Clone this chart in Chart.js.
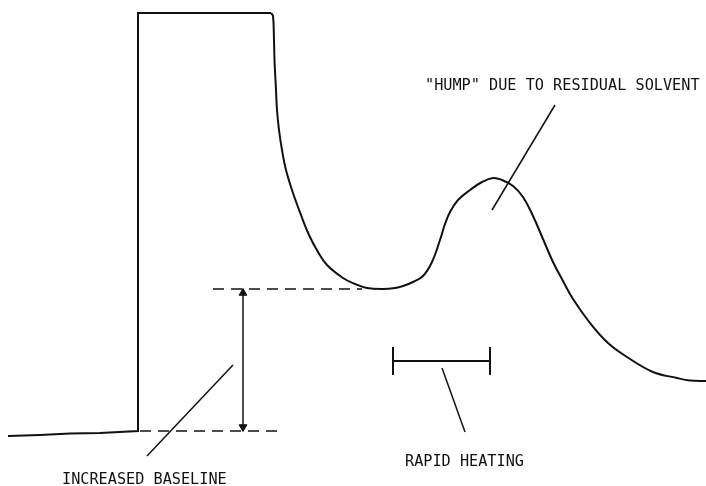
<!DOCTYPE html>
<html>
<head>
<meta charset="utf-8">
<script src="https://cdn.jsdelivr.net/npm/chart.js@4/dist/chart.umd.min.js"></script>
<style>
  html, body { margin: 0; padding: 0; background: #fff; }
  #wrap { width: 706px; height: 486px; }
</style>
</head>
<body>
<div id="wrap"><canvas id="c" width="706" height="486"></canvas></div>
<script>
// ---- data (x = time units, y = detector signal units) ----
const baselineAndPlateau = [
  {x: 8, y: 50}, {x: 40, y: 51}, {x: 70, y: 52.5}, {x: 100, y: 53}, {x: 138, y: 55},
  {x: 138, y: 473}, {x: 271, y: 473}
];
const decayAndHump = [
  {x: 271, y: 473}, {x: 273, y: 470}, {x: 274, y: 446}, {x: 274.5, y: 426}, {x: 276, y: 396},
  {x: 277, y: 376}, {x: 279, y: 356}, {x: 282, y: 336}, {x: 286, y: 316}, {x: 293, y: 293},
  {x: 301, y: 271}, {x: 309, y: 251}, {x: 318, y: 234}, {x: 327, y: 221}, {x: 343, y: 208},
  {x: 355, y: 202}, {x: 367, y: 198}, {x: 383, y: 197}, {x: 395, y: 198}, {x: 403, y: 200},
  {x: 413, y: 204}, {x: 423, y: 210}, {x: 432, y: 224}, {x: 440, y: 246}, {x: 445, y: 262},
  {x: 450, y: 274}, {x: 458, y: 286}, {x: 470, y: 296}, {x: 482, y: 304}, {x: 493, y: 308},
  {x: 502, y: 306}, {x: 513, y: 300}, {x: 523, y: 289}, {x: 533, y: 270}, {x: 543, y: 247},
  {x: 553, y: 224}, {x: 563, y: 205}, {x: 573, y: 187}, {x: 590, y: 163}, {x: 608, y: 143},
  {x: 627, y: 129}, {x: 653, y: 114}, {x: 677, y: 108}, {x: 690, y: 105.5}, {x: 706, y: 105}
];
const originalBaseline = [{x: 140, y: 55}, {x: 278, y: 55}];
const raisedBaseline = [{x: 213, y: 197}, {x: 362, y: 197}];
const increaseArrow = [{x: 243, y: 55}, {x: 243, y: 197}];
const arrowHeads = [{x: 243, y: 193}, {x: 243, y: 59}];
const humpPointer = [{x: 555, y: 381}, {x: 492, y: 276}];
const baselinePointer = [{x: 233, y: 121}, {x: 147, y: 30}];
const heatingPointer = [{x: 442, y: 118}, {x: 465, y: 54}];
const heatingBar = [{x: 393, y: 125}, {x: 490, y: 125}];
const heatingStartTick = [{x: 393, y: 139}, {x: 393, y: 111}];
const heatingEndTick = [{x: 490, y: 139}, {x: 490, y: 111}];
const labelTexts = ['"HUMP" DUE TO RESIDUAL SOLVENT', 'RAPID HEATING', 'INCREASED BASELINE'];
const labelX = [425, 405, 62];
const labelY = [396, 20, 2];

// ---- chart ----
const INK = '#111';
function seg(data, width, dash) {
  return {
    data: data, borderColor: INK, borderWidth: width || 1.5, borderDash: dash || [],
    pointRadius: 0, tension: 0, fill: false, showLine: true, clip: false
  };
}

const labelPlugin = {
  id: 'labels',
  afterDatasetsDraw(chart) {
    const ctx = chart.ctx;
    const xs = chart.scales.x, ys = chart.scales.y;
    ctx.save();
    ctx.fillStyle = INK;
    ctx.font = '16px "DejaVu Sans Mono"';
    ctx.textBaseline = 'alphabetic';
    ctx.textAlign = 'left';
    labelTexts.forEach((t, i) => {
      const px = xs.getPixelForValue(labelX[i]);
      const py = ys.getPixelForValue(labelY[i]);
      ctx.save();
      ctx.translate(px, py);
      ctx.scale(0.95, 1);
      ctx.fillText(t, 0, 0);
      ctx.restore();
    });
    ctx.restore();
  }
};

new Chart(document.getElementById('c'), {
  type: 'scatter',
  data: {
    datasets: [
      seg(baselineAndPlateau, 2),
      Object.assign(seg(decayAndHump, 2), {tension: 0.4}),
      seg(originalBaseline, 1.5, [11, 7]),
      seg(raisedBaseline, 1.5, [11, 7]),
      seg(increaseArrow, 1.5),
      {
        data: arrowHeads, showLine: false, pointStyle: 'triangle', pointRadius: 4.5,
        pointRotation: [0, 180], backgroundColor: INK, borderColor: INK, borderWidth: 1, clip: false
      },
      seg(humpPointer, 1.5),
      seg(baselinePointer, 1.5),
      seg(heatingPointer, 1.5),
      seg(heatingBar, 2),
      seg(heatingStartTick, 2),
      seg(heatingEndTick, 2)
    ]
  },
  options: {
    responsive: false,
    animation: false,
    events: [],
    layout: { padding: 0, autoPadding: false },
    plugins: { legend: { display: false }, tooltip: { enabled: false }, title: { display: false } },
    scales: {
      x: { type: 'linear', display: false, min: 0, max: 706 },
      y: { type: 'linear', display: false, min: 0, max: 486 }
    }
  },
  plugins: [labelPlugin]
});
</script>
</body>
</html>
